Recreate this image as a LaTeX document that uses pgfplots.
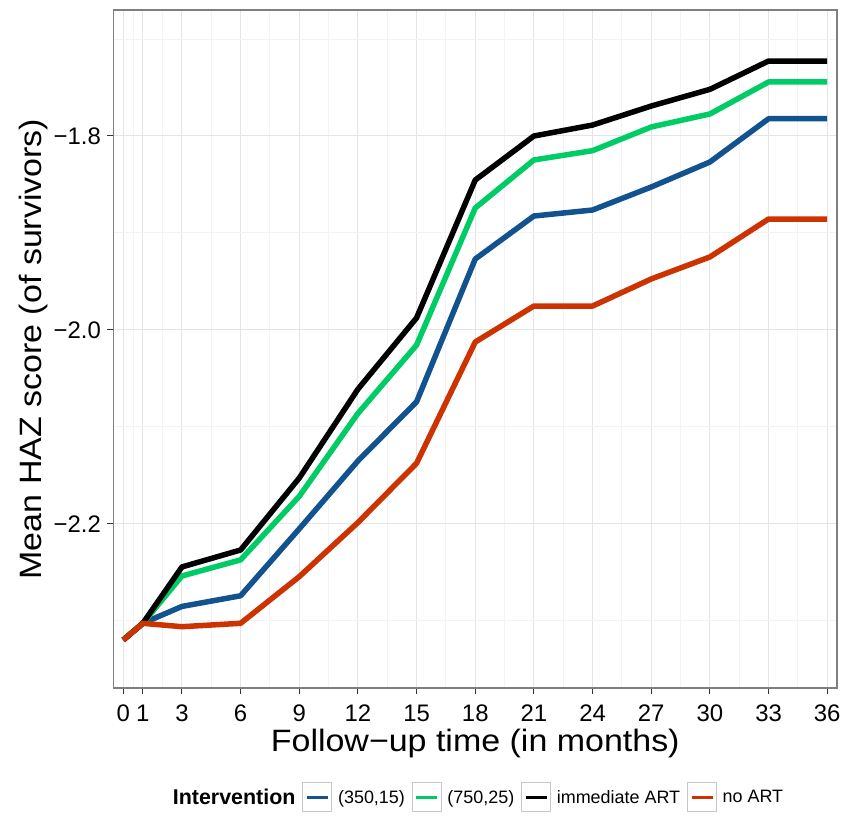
\documentclass[border=0pt]{standalone}
\usepackage{fontspec}
\setmainfont{Liberation Sans}
\newfontfamily\titlefont[FakeStretch=1.1]{Liberation Sans}
\usepackage{pgfplots}
\pgfplotsset{compat=1.18}
\definecolor{cBlue}{RGB}{17,82,143}
\definecolor{cGreen}{RGB}{0,204,102}
\definecolor{cRed}{RGB}{204,51,0}
\definecolor{gridMaj}{RGB}{229,229,229}
\definecolor{gridMin}{RGB}{243,243,243}
\definecolor{frameGray}{RGB}{127,127,127}

\begin{document}
\begin{tikzpicture}
\begin{axis}[
  scale only axis, width=723.5bp, height=678bp,
  xmin=-0.5, xmax=36.5, ymin=-2.3691, ymax=-1.6701,
  xtick={0,1,3,6,9,12,15,18,21,24,27,30,33,36},
  xticklabels={0,1,3,6,9,12,15,18,21,24,27,30,33,36},
  minor xtick={0.5,2,4.5,7.5,10.5,13.5,16.5,19.5,22.5,25.5,28.5,31.5,34.5},
  ytick={-2.2,-2.0,-1.8}, yticklabels={−2.2,−2.0,−1.8},
  minor ytick={-2.3,-2.1,-1.9,-1.7},
  grid=both,
  major grid style={gridMaj, line width=1bp},
  minor grid style={gridMin, line width=1bp},
  axis line style={frameGray, line width=1.7bp},
  tick align=outside, tick pos=left,
  major tick length=6bp, minor tick length=0pt,
  major tick style={black!80, line width=1bp},
  tick label style={font=\fontsize{24}{24}\selectfont, black},
  xticklabel style={inner sep=0pt, anchor=north, yshift=-11bp},
  yticklabel style={inner sep=0pt, anchor=east, xshift=-6.5bp},
  xlabel={Follow−up time (in months)},
  xlabel style={at={(axis description cs:0.5,-0.094)}, anchor=base, inner sep=0pt,
    font=\titlefont\fontsize{31}{31}\selectfont},
  ylabel={Mean HAZ score (of survivors)},
  ylabel style={at={(axis description cs:-0.0995,0.5)}, anchor=base, inner sep=0pt,
    font=\titlefont\fontsize{31}{31}\selectfont},
  legend columns=-1,
  legend style={at={(axis description cs:0.5,-0.1615)}, anchor=center,
    draw=none, fill=none, inner sep=0pt, outer sep=0pt,
    font=\fontsize{18}{18}\selectfont, column sep=0pt,
    /tikz/every odd column/.append style={column sep=5.6bp},
    /tikz/every even column/.append style={column sep=7bp},
    nodes={inner sep=0pt}},
  legend image code/.code={
    \draw[black!22, fill=white, line width=1bp] (0bp,-14.5bp) rectangle (29bp,14.5bp);
    \draw[#1, line width=3.6bp] (4bp,0bp) -- (25bp,0bp);},
  every axis plot/.append style={line width=5.5bp, line join=round},
]
\coordinate (ll) at (rel axis cs:0,0);
\addlegendimage{empty legend}
\addlegendentry{\fontsize{21.5}{21.5}\selectfont\bfseries Intervention}

% (350,15)
\addplot[cBlue] coordinates {
(0,-2.3196) (1,-2.3024) (3,-2.2850) (6,-2.2740) (9,-2.2050) (12,-2.1350)
(15,-2.0740) (18,-1.9268) (21,-1.8825) (24,-1.8763) (27,-1.8526) (30,-1.8268)
(33,-1.7822) (36,-1.7822)};
\addlegendentry{(350,15)}

% (750,25)
\addplot[cGreen] coordinates {
(0,-2.3196) (1,-2.3024) (3,-2.2536) (6,-2.2370) (9,-2.1715) (12,-2.0860)
(15,-2.0155) (18,-1.8742) (21,-1.8247) (24,-1.8151) (27,-1.7907) (30,-1.7773)
(33,-1.7443) (36,-1.7443)};
\addlegendentry{(750,25)}

% immediate ART
\addplot[black] coordinates {
(0,-2.3196) (1,-2.3024) (3,-2.2443) (6,-2.2268) (9,-2.1526) (12,-2.0610)
(15,-1.9875) (18,-1.8454) (21,-1.8000) (24,-1.7887) (27,-1.7691) (30,-1.7519)
(33,-1.7227) (36,-1.7227)};
\addlegendentry{immediate ART}

% no ART
\addplot[cRed] coordinates {
(0,-2.3196) (1,-2.3024) (3,-2.3059) (6,-2.3024) (9,-2.2543) (12,-2.1985)
(15,-2.1374) (18,-2.0124) (21,-1.9753) (24,-1.9753) (27,-1.9474) (30,-1.9247)
(33,-1.8856) (36,-1.8856)};
\addlegendentry{no ART}
\end{axis}
\pgfresetboundingbox
\path[use as bounding box] (ll) ++(-113.5bp,-128bp) rectangle ++(845bp,816bp);
\end{tikzpicture}
\end{document}
